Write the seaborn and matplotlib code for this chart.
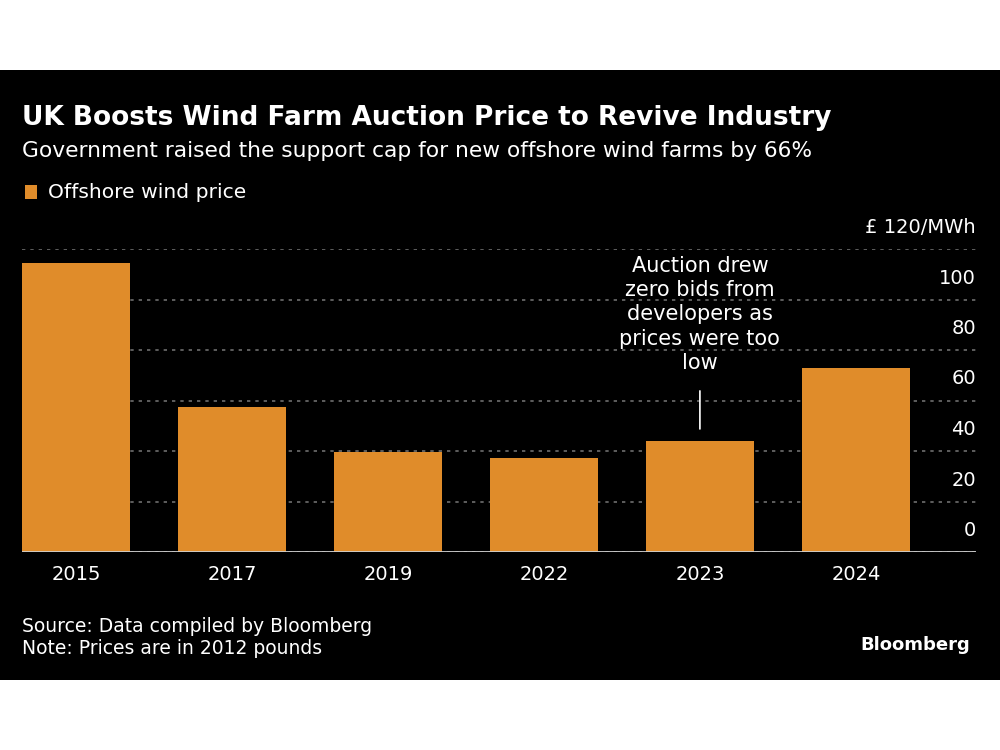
import matplotlib
matplotlib.use("Agg")
import matplotlib.pyplot as plt
from matplotlib.patches import Rectangle
import seaborn as sns
import pandas as pd

# ---- data ----
years = ["2015", "2017", "2019", "2022", "2023", "2024"]
prices = [114.4, 57.5, 39.7, 37.4, 44.0, 73.0]
ytick_values = [0, 20, 40, 60, 80, 100, 120]
ytick_labels = ["0", "20", "40", "60", "80", "100", "£ 120/MWh"]
annot_year = "2023"
annot_text = "Auction drew\nzero bids from\ndevelopers as\nprices were too\nlow"

title = "UK Boosts Wind Farm Auction Price to Revive Industry"
subtitle = "Government raised the support cap for new offshore wind farms by 66%"
legend_label = "Offshore wind price"
source = "Source: Data compiled by Bloomberg"
note = "Note: Prices are in 2012 pounds"

ORANGE = "#E08C2A"
WHITE = "#FFFFFF"
GRID = "#6E6E6E"

sns.set_theme(style="dark")
plt.rcParams["font.family"] = ["DejaVu Sans"]

df = pd.DataFrame({"year": years, "price": prices})

fig = plt.figure(figsize=(10, 7.5), dpi=100, facecolor="white")
# black panel
fig.patches.append(Rectangle((0, 1 - 680 / 750), 1, (680 - 70) / 750,
                             transform=fig.transFigure, facecolor="black",
                             edgecolor="none", zorder=-5))

ax = fig.add_axes([0.022, 1 - 552 / 750, 0.954, (552 - 249) / 750])
ax.set_zorder(5)
ax.set_facecolor("none")

sns.barplot(data=df, x="year", y="price", color=ORANGE, saturation=1,
            width=0.69, linewidth=0, edgecolor="none", ax=ax, zorder=3)

ax.set_xlim(-0.346, 5.77)
ax.set_ylim(0, 120)
ax.set_xlabel("")
ax.set_ylabel("")
for s in ax.spines.values():
    s.set_visible(False)

# gridlines
ax.set_yticks(ytick_values)
ax.yaxis.grid(True, color=GRID, linestyle=(0, (2, 3)), linewidth=1.2, zorder=0)
ax.xaxis.grid(False)
ax.tick_params(axis="y", left=False, right=False, labelleft=False, labelright=False)
ax.tick_params(axis="x", bottom=False, colors=WHITE, labelsize=14, pad=3.5)
for lbl in ax.get_xticklabels():
    lbl.set_color(WHITE)
ax.set_axisbelow(True)

# baseline
ax.axhline(0, color="#D0D0D0", linewidth=2, zorder=4)

# y labels on right, above gridlines
for v, lab in zip(ytick_values, ytick_labels):
    ax.annotate(lab, xy=(1, v), xycoords=("axes fraction", "data"),
                xytext=(0, 12), textcoords="offset pixels",
                ha="right", va="bottom", color=WHITE, fontsize=14)

# annotation for 2023
idx = years.index(annot_year)
val = prices[idx]
ax.annotate("", xy=(idx, val), xycoords="data",
            xytext=(0, 50), textcoords="offset pixels",
            arrowprops=dict(arrowstyle="-", color=WHITE, lw=1.2,
                            shrinkA=0, shrinkB=8.6))
ax.annotate(annot_text, xy=(idx, val), xycoords="data",
            xytext=(0, 68), textcoords="offset pixels",
            ha="center", va="bottom", color=WHITE, fontsize=15,
            linespacing=1.27)

# titles
fig.text(0.022, 1 - 118 / 750, title, color=WHITE, fontsize=19,
         fontweight="bold", va="center", ha="left")
fig.text(0.022, 1 - 151 / 750, subtitle, color=WHITE, fontsize=15.7,
         va="center", ha="left")

# legend
fig.patches.append(Rectangle((25 / 1000, 1 - 199 / 750), 12 / 1000, 14 / 750,
                             transform=fig.transFigure, facecolor=ORANGE,
                             edgecolor="none", zorder=2))
fig.text(0.048, 1 - 192 / 750, legend_label, color=WHITE, fontsize=14.6,
         va="center", ha="left")

# footer
fig.text(0.022, 1 - 627 / 750, source, color=WHITE, fontsize=13.5,
         va="center", ha="left")
fig.text(0.022, 1 - 649 / 750, note, color=WHITE, fontsize=13.5,
         va="center", ha="left")
fig.text(0.970, 1 - 645 / 750, "Bloomberg", color=WHITE, fontsize=13,
         fontweight="bold", va="center", ha="right")

fig.savefig("out.png", dpi=100, facecolor=fig.get_facecolor())
